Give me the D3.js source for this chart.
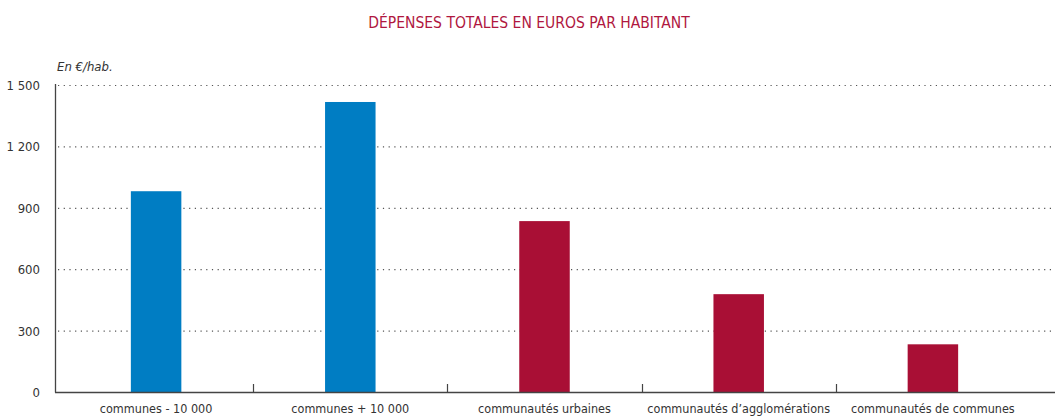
<!DOCTYPE html>
<html>
<head>
<meta charset="utf-8">
<script src="https://cdn.jsdelivr.net/npm/d3@7"></script>
<style>
  body { margin: 0; background: #fff; }
  text { font-family: "Liberation Sans Narrow", "DejaVu Sans Condensed", sans-serif; }
</style>
</head>
<body>
<div id="chart"></div>
<script>
// data
var categories = ["communes - 10 000", "communes + 10 000", "communautés urbaines",
                  "communautés d’agglomérations", "communautés de communes"];
var values = [981, 1417, 835, 478, 233];
var groups = ["communes", "communes", "communautes", "communautes", "communautes"];
var yTicks = [0, 300, 600, 900, 1200, 1500];
var yTickLabels = ["0", "300", "600", "900", "1 200", "1 500"];

var width = 1055, height = 416;

var color = d3.scaleOrdinal()
  .domain(["communes", "communautes"])
  .range(["#007dc3", "#a90f35"]);

var svg = d3.select("#chart")
  .append("svg")
  .attr("width", width)
  .attr("height", height);

var x = d3.scaleBand()
  .domain(categories)
  .range([59, 1030]);

var y = d3.scaleLinear()
  .domain([0, 1500])
  .range([392, 85]);

// title
svg.append("text")
  .attr("x", 529)
  .attr("y", 28)
  .attr("text-anchor", "middle")
  .attr("fill", "#b0173f")
  .style("font-size", "15.5px")
  .text("DÉPENSES TOTALES EN EUROS PAR HABITANT");

svg.append("text")
  .attr("x", 57)
  .attr("y", 71)
  .attr("fill", "#333")
  .style("font-size", "13px")
  .style("font-style", "italic")
  .text("En €/hab.");

// gridlines
svg.selectAll(".grid")
  .data(yTicks.filter(function(d) { return d > 0; }))
  .enter().append("line")
  .attr("class", "grid")
  .attr("x1", 58)
  .attr("x2", 1052)
  .attr("y1", function(d) { return y(d) + 0.5; })
  .attr("y2", function(d) { return y(d) + 0.5; })
  .attr("stroke", "#555")
  .attr("stroke-width", 1.2)
  .attr("stroke-dasharray", "1.2,4.5");

// bars
var barW = x.bandwidth() * 0.26;
svg.selectAll(".bar")
  .data(categories)
  .enter().append("rect")
  .attr("class", "bar")
  .attr("x", function(d) { return x(d) + x.bandwidth() / 2 - barW / 2; })
  .attr("y", function(d, i) { return y(values[i]); })
  .attr("width", barW)
  .attr("height", function(d, i) { return y(0) - y(values[i]); })
  .attr("fill", function(d, i) { return color(groups[i]); });

// y axis
svg.append("line")
  .attr("x1", 55.5).attr("x2", 55.5)
  .attr("y1", 84).attr("y2", y(0) + 0.5)
  .attr("stroke", "#444")
  .attr("stroke-width", 1.3);

svg.selectAll(".ylabel")
  .data(yTicks)
  .enter().append("text")
  .attr("class", "ylabel")
  .attr("x", 40)
  .attr("y", function(d) { return y(d) + 5; })
  .attr("text-anchor", "end")
  .attr("fill", "#333")
  .style("font-size", "13px")
  .text(function(d, i) { return yTickLabels[i]; });

// x axis
svg.append("line")
  .attr("x1", 55).attr("x2", 1055)
  .attr("y1", y(0) + 0.5).attr("y2", y(0) + 0.5)
  .attr("stroke", "#444")
  .attr("stroke-width", 1.3);

svg.selectAll(".xtick")
  .data(categories.slice(1))
  .enter().append("line")
  .attr("class", "xtick")
  .attr("x1", function(d) { return Math.round(x(d)) + 0.5; })
  .attr("x2", function(d) { return Math.round(x(d)) + 0.5; })
  .attr("y1", y(0) - 8)
  .attr("y2", y(0))
  .attr("stroke", "#444")
  .attr("stroke-width", 1.2);

svg.selectAll(".xlabel")
  .data(categories)
  .enter().append("text")
  .attr("class", "xlabel")
  .attr("x", function(d) { return x(d) + x.bandwidth() / 2; })
  .attr("y", 413)
  .attr("text-anchor", "middle")
  .attr("fill", "#333")
  .style("font-size", "12.5px")
  .text(function(d) { return d; });
</script>
</body>
</html>
